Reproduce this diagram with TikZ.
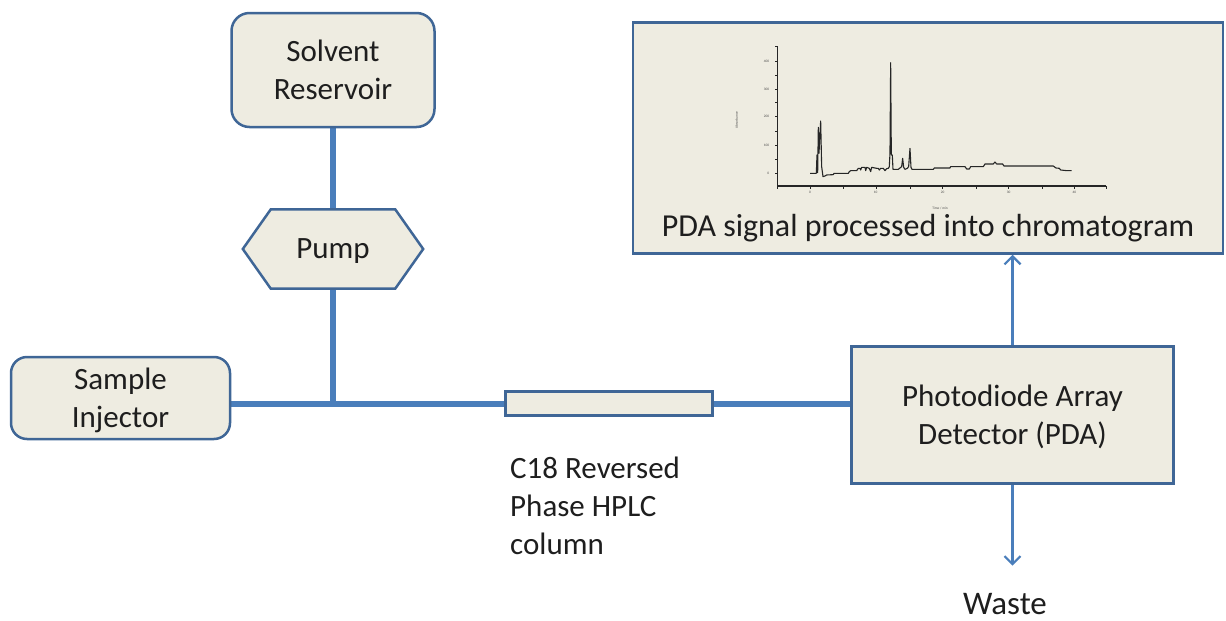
\documentclass[tikz,border=0pt]{standalone}
\usepackage{fontspec}
\setmainfont{Carlito}
\usetikzlibrary{arrows.meta,backgrounds}
\definecolor{boxfill}{HTML}{EEECE1}
\definecolor{boxline}{HTML}{3F6696}
\definecolor{pipeblue}{HTML}{4A7EBB}
\definecolor{ink}{HTML}{1E1E1E}
\pgfdeclarelayer{shapes}
\pgfsetlayers{background,shapes,main}
\begin{document}
\begin{tikzpicture}[x=1pt,y=-1pt,
  txt/.style={text=ink, align=center, font=\fontsize{31}{38}\selectfont},
  unit/.style={txt, draw=boxline, fill=boxfill, line width=2.5pt},
  outline/.style={draw=boxline, fill=boxfill, line width=2.5pt, line join=miter},
  pipe/.style={draw=pipeblue, line width=6pt},
  flow/.style={draw=pipeblue, line width=2.2pt, -{Straight Barb[length=8pt,width=16pt,line width=2.2pt]}},
  axis/.style={draw=black!85, line width=1.1pt},
  tick/.style={draw=black!85, line width=0.8pt},
  tiny/.style={text=black!70, font=\fontsize{3.5}{4}\selectfont, inner sep=0}]
\useasboundingbox (0,0) rectangle (1226,621);

% equipment
\node[unit, rounded corners=18pt, minimum width=203pt, minimum height=114pt, text depth=-2pt] (res) at (333,70) {Solvent\\Reservoir};
\node[txt, minimum width=124pt, minimum height=79pt, inner sep=0, text depth=-3pt] (pump) at (333,249) {Pump};
\begin{pgfonlayer}{shapes}
  \draw[outline] (pump.north west) -- (pump.north east) -- ([xshift=28pt]pump.east)
    -- (pump.south east) -- (pump.south west) -- ([xshift=-28pt]pump.west) -- cycle;
\end{pgfonlayer}
\node[unit, rounded corners=16pt, minimum width=219pt, minimum height=82pt, text depth=-2pt] (inj) at (120.5,398) {Sample\\Injector};
\node[unit, minimum width=207pt, minimum height=24pt, inner sep=0] (col) at (609,403.5) {};
\node[txt, align=left, anchor=north west, inner sep=0] (collabel) at (510,457) {C18 Reversed\\Phase HPLC\\column};
\node[unit, minimum width=322pt, minimum height=137pt, text depth=-2pt] (pda) at (1012.5,415) {Photodiode Array\\Detector (PDA)};
\node[unit, minimum width=590pt, minimum height=231pt] (chrom) at (928,138) {};
\node[txt, font=\fontsize{32}{38}\selectfont, anchor=base] (chromtext) at (928,236) {PDA signal processed into chromatogram};
\node[txt, font=\fontsize{33}{40}\selectfont, anchor=base, inner sep=0] (waste) at (1005,614) {Waste};
\coordinate (j) at (333,403.5);

% tubing
\begin{pgfonlayer}{background}
  \draw[pipe] (res.south) -- (pump.north);
  \draw[pipe] (pump.south) -- (j);
  \draw[pipe] (inj.east |- j) -- (j) -- (col.west);
  \draw[pipe] (col.east) -- (pda.west |- col.east);
\end{pgfonlayer}

% signal and waste flows
\draw[flow] (pda.north) -- (pda.north |- chrom.south);
\draw[flow, shorten >=27pt] (pda.south) -- (pda.south |- waste.north);

% chromatogram
\begin{scope}[shift={(720,40)}, scale=0.3333]
  \draw[axis] (173,20) -- (173,438) -- (1158,438);
  \foreach \yy in {20,63,105,147,188,230,273,316,358,400}
    \draw[tick] (165,\yy) -- (173,\yy);
  \foreach \xx in {173,270,370,470,570,668,768,866,966,1063,1158}
    \draw[tick] (\xx,438) -- (\xx,446);
  \foreach \yy/\lab in {63/400,147/300,230/200,316/100,400/0}
    \node[tiny, anchor=east] at (148,\yy) {\lab};
  \foreach \xx/\lab in {270/0,467/10,668/20,866/30,1063/40}
    \node[tiny] at (\xx,458) {\lab};
  \node[tiny, rotate=90] at (50,240) {Absorbance};
  \node[tiny] at (660,505) {Time / min};
  \draw[black!85, line width=1.1pt, line join=round]
    (270,400) -- (289,400) -- (291,345) -- (293,398) -- (295,262) -- (297,340)
    -- (299,300) -- (302,243) -- (305,380) -- (309,410) -- (315,408) -- (320,405)
    -- (340,404) -- (342,400) -- (385,400) -- (388,395) -- (392,392) -- (410,392)
    -- (415,385) -- (420,385) -- (422,390) -- (425,382) -- (435,382) -- (437,392)
    -- (440,382) -- (448,385) -- (452,395) -- (455,382) -- (470,385) -- (475,385)
    -- (478,390) -- (482,385) -- (490,385) -- (495,392) -- (500,386) -- (505,385)
    -- (508,380) -- (510,340) -- (512,68) -- (514,345) -- (517,345) -- (519,388)
    -- (535,388) -- (545,380) -- (548,355) -- (551,382) -- (555,388) -- (562,385)
    -- (566,380) -- (570,325) -- (573,382) -- (576,388) -- (640,388) -- (643,384)
    -- (690,384) -- (692,380) -- (735,380) -- (740,387) -- (748,387) -- (752,380)
    -- (790,380) -- (795,372) -- (820,372) -- (825,366) -- (830,372) -- (848,372)
    -- (852,378) -- (1000,378) -- (1008,384) -- (1018,385) -- (1022,390)
    -- (1040,392) -- (1055,392);
\end{scope}
\end{tikzpicture}
\end{document}
